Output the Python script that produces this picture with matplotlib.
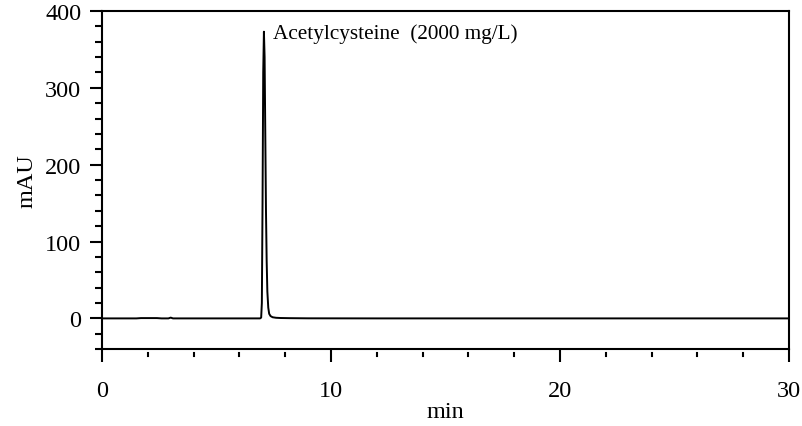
import numpy as np
import matplotlib.pyplot as plt
from matplotlib.ticker import MultipleLocator

plt.rcParams['font.family'] = ['Liberation Serif', 'DejaVu Serif']

# trace (min, mAU)
time_min = [0.0, 1.5, 1.7, 2.4, 2.6, 2.9, 3.0, 3.1, 4.0, 5.0, 6.0, 6.9, 6.95, 6.98,
            7.01, 7.04, 7.07, 7.10, 7.13, 7.16, 7.19, 7.22, 7.26, 7.30, 7.36,
            7.45, 7.6, 7.8, 8.2, 9.0, 12.0, 15.0, 18.0, 21.0, 24.0, 27.0, 30.0]
signal_mau = [0.0, 0.0, 0.4, 0.4, 0.0, 0.0, 1.0, 0.0, 0.0, 0.0, 0.0, 0.0, 1.0, 20.0,
              150.0, 320.0, 373.0, 340.0, 240.0, 140.0, 75.0, 35.0, 14.0, 6.0, 3.0,
              1.5, 0.8, 0.5, 0.3, 0.1, 0.0, 0.0, 0.0, 0.0, 0.0, 0.0, 0.0]

peak_label = 'Acetylcysteine  (2000 mg/L)'
peak_time = 7.07
peak_height = 373

fig = plt.figure(figsize=(8.03, 4.27), dpi=100)
ax = fig.add_axes([0.127, 0.180, 0.8557, 0.792])

ax.plot(time_min, signal_mau, color='black', lw=1.4)
ax.text(peak_time + 0.4, peak_height - 2, peak_label, fontsize=15.3, va='center', ha='left')

ax.set_xlim(0, 30)
ax.set_ylim(-40, 400)
ax.xaxis.set_major_locator(MultipleLocator(10))
ax.xaxis.set_minor_locator(MultipleLocator(2))
ax.yaxis.set_major_locator(MultipleLocator(100))
ax.yaxis.set_minor_locator(MultipleLocator(20))

ax.tick_params(axis='both', which='major', direction='out', length=9, width=1.5, labelsize=17.5)
ax.tick_params(axis='both', which='minor', direction='out', length=5, width=1.5)
ax.tick_params(axis='x', which='major', pad=13)
ax.tick_params(axis='y', which='major', pad=6)
ax.tick_params(axis='x', which='minor', direction='in', length=0)
for s in ax.spines.values():
    s.set_linewidth(1.5)

# minor x ticks drawn below the bottom spine, offset a little
for xt in np.arange(2, 30, 2):
    if xt % 10:
        ax.plot([xt, xt], [-44.5, -49.5], color='black', lw=1.5, clip_on=False)

ax.set_xlabel('min', fontsize=17.5, labelpad=0)
ax.set_ylabel('mAU', fontsize=17.5, labelpad=5)

fig.savefig('out.png', dpi=100)
